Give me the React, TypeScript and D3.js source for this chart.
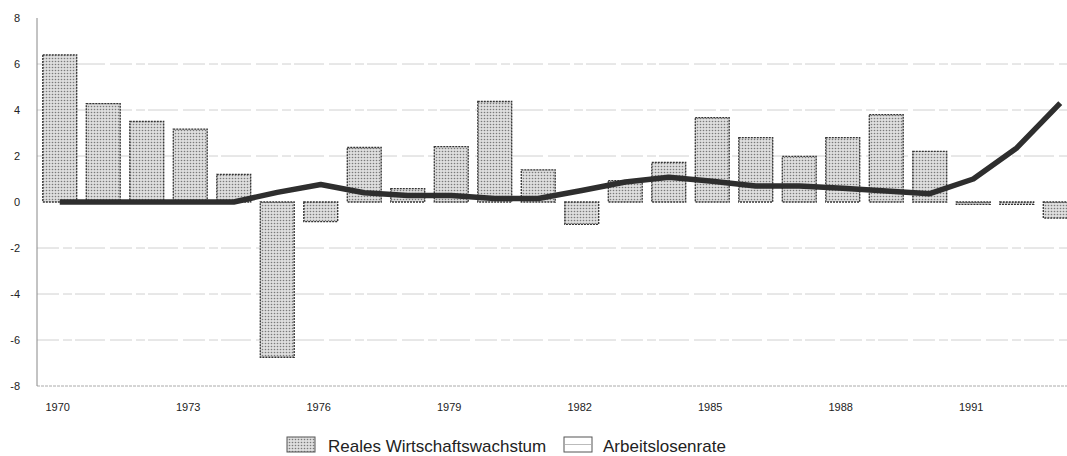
import React from 'react';
import * as d3 from 'd3';

// Jahre 1970 - 1993
const years: number[] = d3.range(1970, 1994);

// Reales Wirtschaftswachstum (%), Balken
const growth: number[] = [
  6.4, 4.28, 3.5, 3.17, 1.2, -6.75, -0.85, 2.37, 0.58, 2.41, 4.37, 1.4,
  -0.97, 0.93, 1.72, 3.67, 2.8, 1.98, 2.8, 3.8, 2.2, -0.1, -0.1, -0.7,
];

// Arbeitslosenrate, Linie
const unemployment: number[] = [
  0, 0, 0, 0, 0, 0.42, 0.76, 0.4, 0.28, 0.28, 0.15, 0.15,
  0.5, 0.87, 1.08, 0.9, 0.7, 0.7, 0.6, 0.48, 0.36, 1.0, 2.35, 4.3,
];

const yTicks: number[] = [8, 6, 4, 2, 0, -2, -4, -6, -8];
const xTickYears: number[] = [1970, 1973, 1976, 1979, 1982, 1985, 1988, 1991];

const legendLabels: string[] = ['Reales Wirtschaftswachstum', 'Arbeitslosenrate'];

const W = 1067;
const H = 456;
const font = "'Liberation Sans', Arial, sans-serif";

const App: React.FC = () => {
  const x = d3.scaleBand<number>()
    .domain(years)
    .range([38, 38 + 24 * 43.5])
    .paddingInner(0.22)
    .paddingOuter(0.11);

  const y = d3.scaleLinear().domain([-8, 8]).range([386, 18]);

  const cx = (yr: number) => (x(yr) ?? 0) + x.bandwidth() / 2;

  const line = d3.line<number>()
    .x((_d, i) => cx(years[i]))
    .y(d => y(d));

  const axisX = 37;

  return (
    <div style={{ position: 'absolute', left: 0, top: 0 }}>
      <svg width={W} height={H} style={{ display: 'block', background: '#fff' }}>
        <defs>
          <pattern id="stipple" width={3} height={3} patternUnits="userSpaceOnUse">
            <rect width={3} height={3} fill="#dedede" />
            <circle cx={1.5} cy={1.5} r={0.8} fill="#7a7a7a" />
          </pattern>
        </defs>

        {/* Gitterlinien */}
        {yTicks.filter(t => t !== 0 && t !== 8 && t !== -8).map(t => (
          <line key={t} x1={axisX} x2={W} y1={y(t)} y2={y(t)}
            stroke="#c4c4c4" strokeWidth={0.8} strokeDasharray="22 4 9 3 30 5" />
        ))}
        {/* untere Achse */}
        <line x1={axisX} x2={W} y1={y(-8)} y2={y(-8)} stroke="#aaa" strokeWidth={1} strokeDasharray="3 1" />
        {/* y-Achse */}
        <line x1={axisX} x2={axisX} y1={y(8)} y2={y(-8)} stroke="#888" strokeWidth={1} />

        {yTicks.map(t => (
          <text key={t} x={20} y={y(t)} dy="0.35em" textAnchor="end"
            fontFamily={font} fontSize={11} fill="#222">{t}</text>
        ))}

        {xTickYears.map(yr => (
          <text key={yr} x={cx(yr) - 2} y={411} textAnchor="middle"
            fontFamily={font} fontSize={11} fill="#222">{yr}</text>
        ))}

        {/* Balken */}
        {growth.map((v, i) => (
          <rect key={years[i]}
            x={x(years[i])}
            y={y(Math.max(0, v))}
            width={x.bandwidth()}
            height={Math.max(1.5, Math.abs(y(v) - y(0)))}
            fill="url(#stipple)"
            stroke="#333"
            strokeWidth={1.3}
            strokeDasharray="2 1" />
        ))}

        {/* Linie */}
        <path d={line(unemployment) ?? ''} fill="none" stroke="#2e2e2e" strokeWidth={5.5}
          strokeLinejoin="round" />

        {/* Legende */}
        <rect x={287} y={437} width={28} height={15} fill="url(#stipple)" stroke="#555" strokeWidth={1} />
        <text x={328} y={452} fontFamily={font} fontSize={17} fill="#222">{legendLabels[0]}</text>
        <rect x={564} y={437} width={28} height={15} fill="#fff" stroke="#555" strokeWidth={1} />
        <line x1={565} x2={591} y1={444.5} y2={444.5} stroke="#aaa" strokeWidth={0.8} />
        <text x={603} y={452} fontFamily={font} fontSize={17} fill="#222">{legendLabels[1]}</text>
      </svg>
    </div>
  );
};

export default App;
